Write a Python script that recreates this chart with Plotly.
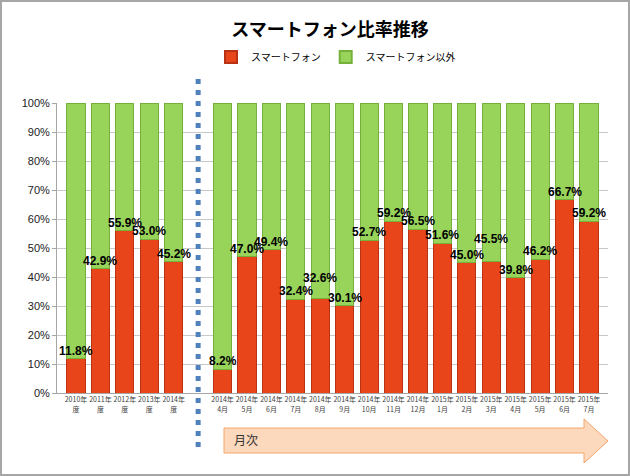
import plotly.graph_objects as go

# ---------------- data ----------------
categories = [
    "2010年<br>度", "2011年<br>度", "2012年<br>度", "2013年<br>度", "2014年<br>度",
    " ",
    "2014年<br>4月", "2014年<br>5月", "2014年<br>6月", "2014年<br>7月", "2014年<br>8月",
    "2014年<br>9月", "2014年<br>10月", "2014年<br>11月", "2014年<br>12月",
    "2015年<br>1月", "2015年<br>2月", "2015年<br>3月", "2015年<br>4月", "2015年<br>5月",
    "2015年<br>6月", "2015年<br>7月",
]
smartphone = [11.8, 42.9, 55.9, 53.0, 45.2, None,
              8.2, 47.0, 49.4, 32.4, 32.6, 30.1, 52.7, 59.2, 56.5,
              51.6, 45.0, 45.5, 39.8, 46.2, 66.7, 59.2]
other = [None if v is None else round(100 - v, 1) for v in smartphone]
y_ticks = [0, 10, 20, 30, 40, 50, 60, 70, 80, 90, 100]
y_tick_labels = [f"{t}%" for t in y_ticks]

series_names = ["スマートフォン", "スマートフォン以外"]
series_colors = ["#E8451A", "#98D35A"]
series_edges = ["#B83213", "#76B03C"]
title_text = "スマートフォン比率推移"
arrow_text = "月次"

# label vertical nudges (pixels) where labels were moved to avoid overlap
label_yshift = {"2014年<br>8月": 12, "2015年<br>3月": 14}

# ---------------- layout geometry ----------------
W, H = 630, 476
ML, MR, MT, MB = 57, 22, 103, 83
PW, PH = W - ML - MR, H - MT - MB


def px_x(x):
    return (x - ML) / PW


def px_y(y):
    return (H - MB - y) / PH


JP = "Noto Sans CJK JP, sans-serif"
NUM = "Liberation Sans, Arial, Noto Sans CJK JP, sans-serif"

fig = go.Figure()
for name, vals, col, edge in zip(series_names, [smartphone, other], series_colors, series_edges):
    fig.add_trace(go.Bar(
        x=categories, y=vals, name=name, showlegend=False,
        marker=dict(color=col, line=dict(color=edge, width=1)),
        hoverinfo="y",
    ))
# legend entries with small square swatches
for name, col, edge in zip(series_names, series_colors, series_edges):
    fig.add_trace(go.Scatter(
        x=[None], y=[None], mode="markers", name=name,
        marker=dict(symbol="square", size=7, color=col, line=dict(color=edge, width=1)),
    ))

annotations = []
for c, v in zip(categories, smartphone):
    if v is None:
        continue
    annotations.append(dict(
        x=c, y=v, xref="x", yref="y", text=f"<b>{v:.1f}%</b>",
        showarrow=False, yanchor="bottom", xanchor="center",
        yshift=-1 + label_yshift.get(c, 0),
        font=dict(family=NUM, size=12, color="#000000"),
    ))

# arrow label
annotations.append(dict(
    x=px_x(232), y=px_y(439), xref="paper", yref="paper", text=arrow_text,
    showarrow=False, xanchor="left", yanchor="middle",
    font=dict(family=JP, size=12, color="#333333"),
))

shapes = []
# outer border
shapes.append(dict(type="rect", xref="paper", yref="paper",
                   x0=px_x(1), x1=px_x(629), y0=px_y(475), y1=px_y(1),
                   line=dict(color="#A6A6A6", width=2), fillcolor="rgba(0,0,0,0)",
                   layer="below"))
# separator dotted line
shapes.append(dict(type="line", xref="x", yref="paper",
                   x0=categories[5], x1=categories[5], y0=px_y(447), y1=px_y(78),
                   line=dict(color="#4F81BD", width=5, dash="5px,6px")))
# arrow
ax0, ax_head, ax_tip = 224, 584, 608
sy0, sy1, hy0, hy1 = 428, 453, 419, 463
ymid = (hy0 + hy1) / 2
path = (f"M {px_x(ax0)} {px_y(sy0)} L {px_x(ax_head)} {px_y(sy0)} "
        f"L {px_x(ax_head)} {px_y(hy0)} L {px_x(ax_tip)} {px_y(ymid)} "
        f"L {px_x(ax_head)} {px_y(hy1)} L {px_x(ax_head)} {px_y(sy1)} "
        f"L {px_x(ax0)} {px_y(sy1)} Z")
shapes.append(dict(type="path", xref="paper", yref="paper", path=path,
                   fillcolor="#FCD9BC", line=dict(color="#F4A56A", width=1)))

fig.update_layout(
    width=W, height=H,
    margin=dict(l=ML, r=MR, t=MT, b=MB, pad=0, autoexpand=False),
    paper_bgcolor="white", plot_bgcolor="white",
    barmode="stack", bargap=0.26,
    title=dict(text=f"<b>{title_text}</b>", x=330 / W, xref="container",
               xanchor="center", y=1 - 30 / H, yref="container", yanchor="middle",
               font=dict(family=JP, size=18, color="#000000")),
    legend=dict(orientation="h", x=336 / W, xref="container",
                xanchor="center", y=1 - 57 / H, yref="container", yanchor="middle",
                font=dict(family=JP, size=10, color="#000000"),
                itemwidth=30, itemsizing="constant", bgcolor="rgba(0,0,0,0)",
                traceorder="normal"),
    showlegend=True,
    xaxis=dict(type="category", tickangle=0, automargin=False,
               tickfont=dict(family=JP, size=7, color="#404040"),
               showline=True, linecolor="#A6A6A6", linewidth=1,
               ticks="", showgrid=False, fixedrange=True),
    yaxis=dict(range=[0, 100], tickvals=y_ticks, ticktext=y_tick_labels, automargin=False,
               tickfont=dict(family=NUM, size=11, color="#222222"),
               showline=True, linecolor="#A6A6A6", linewidth=1,
               ticks="outside", ticklen=4, tickcolor="#A6A6A6",
               showgrid=True, gridcolor="#C8C8C8", gridwidth=1,
               zeroline=False, fixedrange=True),
    annotations=annotations,
    shapes=shapes,
)

fig.write_html(
    "out.html",
    config={"displayModeBar": False},
    post_script="document.body.style.margin='0';document.body.style.overflow='hidden';",
)
